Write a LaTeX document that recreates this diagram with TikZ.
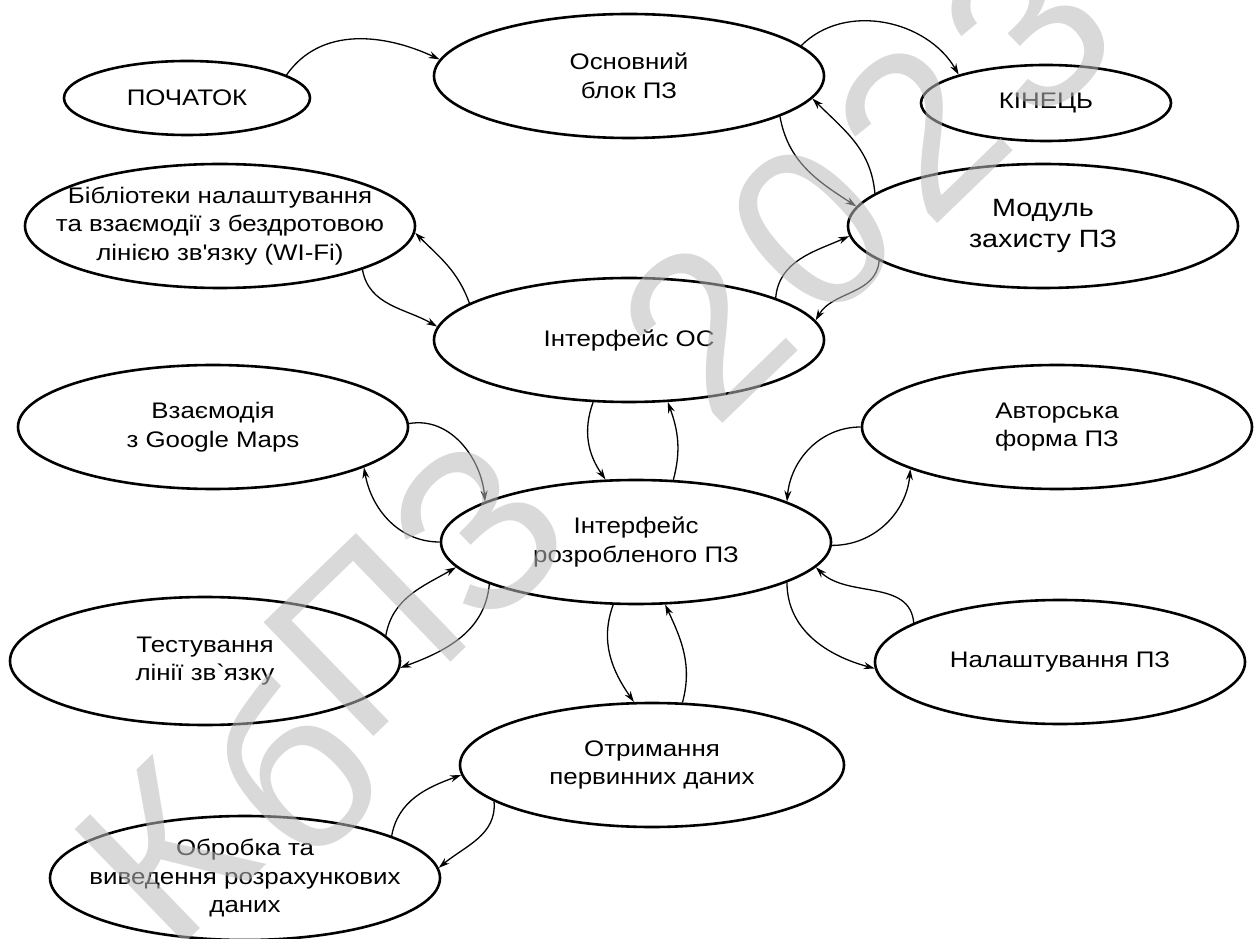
\documentclass[tikz,border=0pt]{standalone}
\usepackage{fontspec}
\setmainfont{Liberation Sans}[FakeStretch=1.15]
\newfontfamily\wmfont{Liberation Sans}
\usetikzlibrary{shapes.geometric,arrows.meta}
\begin{document}
\begin{tikzpicture}[x=1pt,y=1pt,
  blk/.style={ellipse, draw, line width=2.6pt, inner sep=0pt},
  big/.style={blk, minimum width=390pt, minimum height=124pt},
  txt/.style={align=center, inner sep=0pt, font=\fontsize{22.5}{28.5}\selectfont},
  conn/.style={-{Stealth[length=11pt,width=7pt]}, line width=1.3pt},
  wm/.style={text=black!27, text opacity=0.55, inner sep=0pt, rotate=44, font=\wmfont\fontsize{230}{230}\selectfont}]
\useasboundingbox (0,0) rectangle (1255,938);
% ellipses
\node[blk, minimum width=246pt, minimum height=74pt] (start) at (187,840) {};
\node[big] (main) at (629,862) {};
\node[blk, minimum width=250pt, minimum height=76pt] (end) at (1046,835) {};
\node[big] (lib) at (220,712) {};
\node[big] (prot) at (1043,712) {};
\node[big] (os) at (629,598) {};
\node[big] (gmap) at (213,511) {};
\node[big] (auth) at (1057,511) {};
\node[big] (dev) at (636,396) {};
\node[big, minimum height=128pt] (test) at (205,277) {};
\node[big, minimum width=370pt] (sett) at (1060,276) {};
\node[big, minimum width=384pt] (recv) at (652,173) {};
\node[big] (proc) at (245,60) {};
% texts
\node[txt] (startt) at (start) {ПОЧАТОК};
\node[txt] (maint) at (main) {Основний\\блок ПЗ};
\node[txt] (endt) at (end) {КІНЕЦЬ};
\node[txt] (libt) at (lib) {Бібліотеки налаштування\\та взаємодії з бездротовою\\лінією зв\textquotesingle язку (WI-Fi)};
\node[txt, font=\fontsize{25}{31}\selectfont] (prott) at (prot) {Модуль\\захисту ПЗ};
\node[txt] (ost) at (os) {Інтерфейс ОС};
\node[txt] (gmapt) at (gmap) {Взаємодія\\з Google Maps};
\node[txt] (autht) at (auth) {Авторська\\форма ПЗ};
\node[txt] (devt) at (dev) {Інтерфейс\\розробленого ПЗ};
\node[txt] (testt) at (test) {Тестування\\лінії зв\textasciigrave язку};
\node[txt] (settt) at (sett) {Налаштування ПЗ};
\node[txt] (recvt) at (recv) {Отримання\\первинних даних};
\node[txt] (proct) at (proc) {Обробка та\\виведення розрахункових\\даних};
% connectors
\draw[conn] (start.13) to[out=55,in=155] (main.175);
\draw[conn] (main.10) to[out=45,in=120] (end.162);
\draw[conn] (main.-15) to[out=-80,in=147] (prot.174);
\draw[conn] (prot.169) to[out=95,in=-45] (main.-7);
\draw[conn] (os.16) to[out=85,in=204] (prot.183);
\draw[conn] (prot.192) to[out=-95,in=60] (os.6);
\draw[conn] (os.167) to[out=110,in=-45] (lib.-2);
\draw[conn] (lib.-17) to[out=-80,in=150] (os.176);
\draw[conn] (os.240) to[out=-110,in=125] (dev.116);
\draw[conn] (dev.59) to[out=75,in=-70] (os.-58);
\draw[conn] (gmap.1) to[out=10,in=95] (dev.165);
\draw[conn] (dev.180) to[out=180,in=-80] (gmap.-15);
\draw[conn] (auth.180) to[out=180,in=85] (dev.15);
\draw[conn] (dev.-1) to[out=0,in=-95] (auth.196);
\draw[conn] (test.8) to[out=80,in=210] (dev.188);
\draw[conn] (dev.196) to[out=-95,in=20] (test.-2);
\draw[conn] (dev.-15) to[out=-90,in=165] (sett.182);
\draw[conn] (sett.165) to[out=95,in=-45] (dev.-8);
\draw[conn] (dev.250) to[out=-110,in=125] (recv.106);
\draw[conn] (recv.64) to[out=75,in=-65] (dev.-65);
\draw[conn] (proc.16) to[out=80,in=200] (recv.183);
\draw[conn] (recv.193) to[out=-85,in=40] (proc.3);
% watermark
\node[wm] (wm1) at (165,85) {К};
\node[wm] (wm2) at (292,168) {б};
\node[wm] (wm3) at (365,303) {П};
\node[wm] (wm4) at (478,408) {З};
\node[wm] (wm5) at (705,609) {2};
\node[wm] (wm6) at (812,709) {0};
\node[wm] (wm7) at (920,809) {2};
\node[wm] (wm8) at (1027,909) {3};
\end{tikzpicture}
\end{document}
